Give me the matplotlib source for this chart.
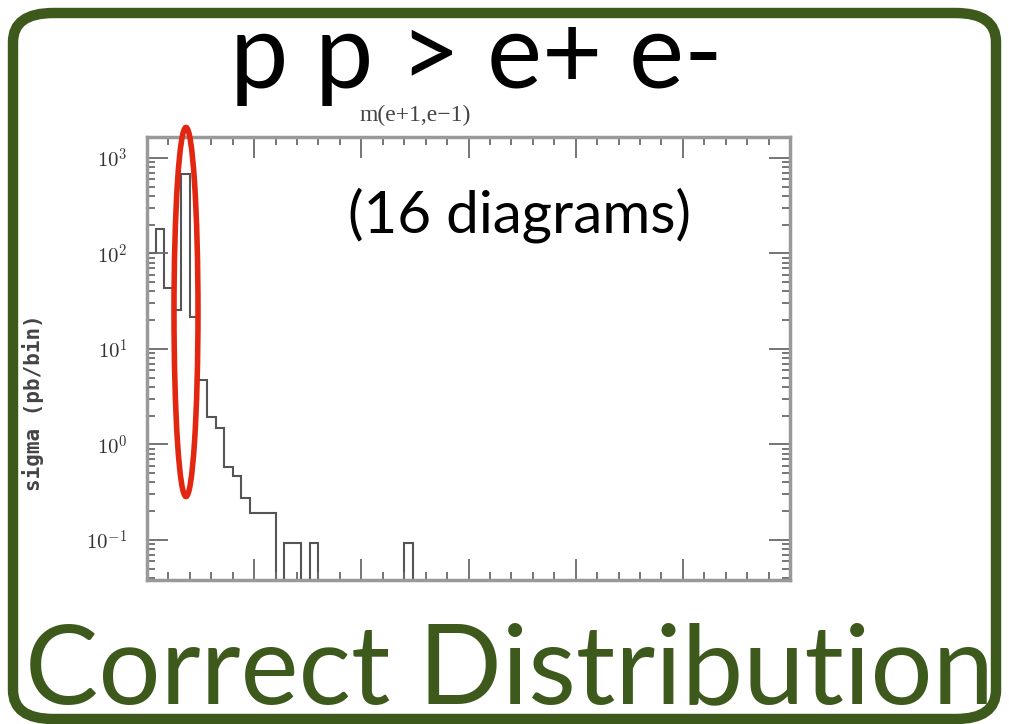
import numpy as np
import matplotlib.pyplot as plt
from matplotlib.patches import FancyBboxPatch, Ellipse
from matplotlib.ticker import MultipleLocator, LogLocator, NullFormatter

# histogram m(e+,e-), 4 GeV bins, sigma in pb/bin
bin_edges = np.arange(0, 304, 4)
sigma = np.zeros(len(bin_edges) - 1)
sigma[:15] = [100, 180, 43, 25.5, 680, 21.5, 4.7, 1.94, 1.5, 0.58,
              0.47, 0.275, 0.19, 0.19, 0.19]
sigma[16] = 0.093
sigma[17] = 0.093
sigma[19] = 0.093
sigma[30] = 0.093

y_ticks = [1e-1, 1e0, 1e1, 1e2, 1e3]
y_labels = [r'$10^{-1}$', r'$10^{0}$', r'$10^{1}$', r'$10^{2}$', r'$10^{3}$']

green = '#3d5a1c'
grey = '#6a6a6a'
plt.rcParams['mathtext.fontset'] = 'cm'

fig = plt.figure(figsize=(10.09, 7.24), dpi=100)
W, H = 1009, 724

ax = fig.add_axes([147 / W, 1 - 580 / H, 643 / W, 443 / H])
ax.set_yscale('log')
ax.stairs(np.where(sigma > 0, sigma, 1e-4), bin_edges, color='#555555', lw=1.5)
ax.set_xlim(0, 300)
ax.set_ylim(10 ** -1.42, 10 ** 3.22)

ax.xaxis.set_major_locator(MultipleLocator(50))
ax.xaxis.set_minor_locator(MultipleLocator(10))
ax.xaxis.set_major_formatter(NullFormatter())
ax.set_yticks(y_ticks)
ax.set_yticklabels(y_labels)
ax.yaxis.set_minor_locator(LogLocator(base=10, subs=np.arange(2, 10)))
ax.yaxis.set_minor_formatter(NullFormatter())
ax.tick_params(which='both', direction='in', top=True, right=True, color=grey, width=1.3)
ax.tick_params(which='major', length=15)
ax.tick_params(which='minor', length=6)
ax.tick_params(axis='y', labelsize=15, labelcolor='#333333', pad=14)
for s in ax.spines.values():
    s.set_color('#999999')
    s.set_linewidth(2.5)

fig.text(33 / W, 1 - 403 / H, 'sigma (pb/bin)', rotation=90, ha='center', va='center',
         family='DejaVu Sans Mono', fontweight='bold', fontsize=15, color='#444444')

# slide decorations
fig.text(476 / W, 1 - 88 / H, 'p p > e+ e-', ha='center', va='baseline',
         family='Lato', fontsize=75, color='black')
fig.text(415 / W, 1 - 121 / H, 'm(e+1,e\u22121)', ha='center', va='baseline',
         family='Liberation Serif', fontsize=17, color='#444444')
fig.text(520 / W, 1 - 233 / H, '(16 diagrams)', ha='center', va='baseline',
         family='Lato', fontsize=42, color='black')
fig.text(510 / W, 1 - 703 / H, 'Correct Distribution', ha='center', va='baseline',
         family='Lato', fontsize=79, color=green)

fig.patches.append(Ellipse((186 / W, 1 - 312 / H), 24 / W, 369 / H, transform=fig.transFigure,
                           fill=False, ec='#e3260f', lw=4))
fig.patches.append(FancyBboxPatch((13 / W, 1 - 719 / H), 983 / W, 706 / H,
                                  boxstyle='round,pad=0,rounding_size=0.04',
                                  transform=fig.transFigure, fill=False, ec=green, lw=7.5))

fig.savefig('out.png', dpi=100)
